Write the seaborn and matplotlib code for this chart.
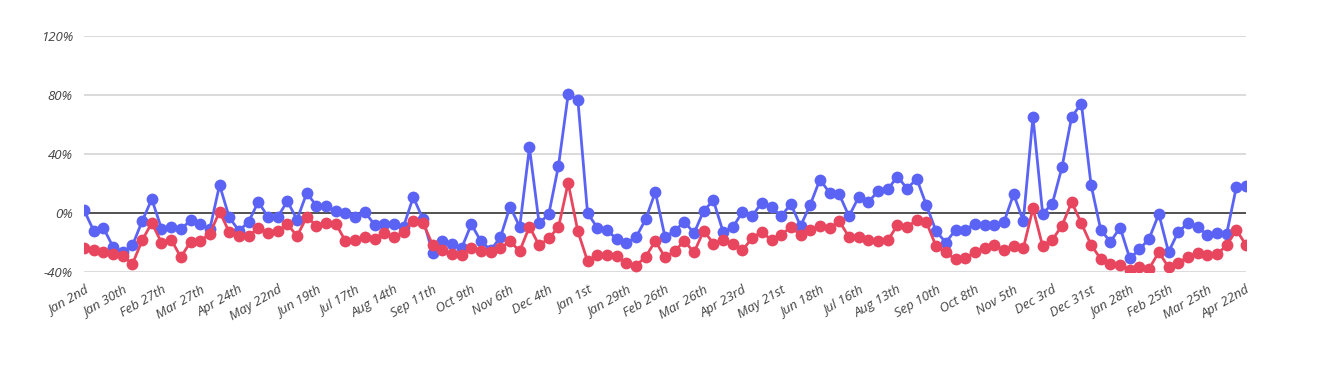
import matplotlib
matplotlib.use("Agg")
import matplotlib.pyplot as plt
import numpy as np
import pandas as pd
import seaborn as sns

# weekly % change, two series
blue = [2, -12, -10, -23, -26.5, -22, -5.6, 9.4, -10.6, -9.7,
        -11, -5, -7.6, -10.8, 19, -3, -12, -6, 7.6, -2.7,
        -2.7, 8, -4.5, 13.5, 5, 4.5, 1.3, 0, -2.5, 0.7,
        -7.9, -7.4, -7.4, -9.2, 10.8, -4, -27, -19, -21, -23.8,
        -7.6, -19.3, -25, -16.6, 4.3, -9.4, 44.5, -7, -0.7, 32,
        80.4, 76.8, 0, -9.9, -11.7, -17.5, -20.2, -16.6, -4.3, 14.2,
        -16.2, -12.1, -5.8, -13.7, 1.6, 8.5, -12.8, -9.7, 0.7, -2,
        7, 3.8, -2, 6, -8.8, 5.6, 22.7, 13.7, 12.6, -2.2,
        10.8, 7.4, 14.8, 16, 24.7, 16.6, 23.1, 5.2, -12.4, -20,
        -11.5, -11.5, -7.2, -7.9, -7.9, -6.3, 12.8, -5.4, 65.2, -0.4,
        6.3, 31.2, 65.2, 74.2, 19.1, -11.5, -19.5, -9.9, -30.8, -24.7,
        -17.3, -0.7, -26.5, -12.8, -7, -9.2, -15, -13.5, -14.2, 17.5,
        18.2]
red = [-24, -25, -26.5, -28, -29, -34.6, -18.6, -6.7, -20, -18,
       -30, -19.5, -19, -14, 1, -13, -15.5, -15.7, -10, -13.7,
       -12.4, -7.4, -15.7, -2.7, -8.5, -6.7, -7.2, -19, -18.6, -16,
       -17.3, -13.7, -16.6, -13, -5.2, -6.5, -21.6, -25.4, -27.6, -28.5,
       -23.8, -26, -26.3, -23.6, -19.3, -25.8, -9.2, -22, -17, -9.7,
       20.4, -12.4, -32.6, -28.3, -28.3, -29, -34, -35.7, -29.7, -19,
       -30, -25.8, -19, -26.7, -12, -20.7, -18.2, -21, -25.2, -17,
       -12.6, -18.6, -14.6, -9.7, -14.8, -11.7, -8.5, -10.1, -5.6, -16.2,
       -16.4, -18.6, -19, -18.6, -8.3, -9.7, -4.5, -6.3, -22.7, -26.7,
       -31.5, -30.8, -26.3, -23.4, -21.8, -25.2, -22.5, -24, 3.1, -22.5,
       -18.2, -8.5, 7.4, -7, -21.6, -31.2, -34.6, -35, -38.6, -36.6,
       -37.7, -26.5, -36.8, -33.7, -29.9, -27, -28.3, -27.9, -22, -11.5,
       -21.6]
tick_labels = ["Jan 2nd", "Jan 30th", "Feb 27th", "Mar 27th", "Apr 24th",
               "May 22nd", "Jun 19th", "Jul 17th", "Aug 14th", "Sep 11th",
               "Oct 9th", "Nov 6th", "Dec 4th", "Jan 1st", "Jan 29th",
               "Feb 26th", "Mar 26th", "Apr 23rd", "May 21st", "Jun 18th",
               "Jul 16th", "Aug 13th", "Sep 10th", "Oct 8th", "Nov 5th",
               "Dec 3rd", "Dec 31st", "Jan 28th", "Feb 25th", "Mar 25th",
               "Apr 22nd"]

n = len(blue)
df = pd.DataFrame({
    "week": list(range(n)) * 2,
    "value": blue + red,
    "series": ["blue"] * n + ["red"] * n,
})

sns.set_style("white")
plt.rcParams["font.family"] = ["Open Sans", "DejaVu Sans"]

fig = plt.figure(figsize=(13.18, 3.66), dpi=100)
ax = fig.add_axes([84 / 1318, 1 - 272 / 366, (1246 - 84) / 1318, (272 - 36) / 366])

sns.lineplot(data=df, x="week", y="value", hue="series",
             palette={"blue": "#5b63f5", "red": "#e8455f"},
             marker="o", markersize=8.5, markeredgewidth=0, linewidth=2,
             legend=False, ax=ax, zorder=3)

ax.set_xlim(0, n - 1)
ax.set_ylim(-40, 120)
yt = [-40, 0, 40, 80, 120]
ax.set_yticks(yt)
ax.set_yticklabels([f"{v}%" for v in yt], fontstyle="italic", color="#444444", fontsize=9.5)
for v in yt:
    ax.axhline(v, color="#333333" if v == 0 else "#d4d4d4", linewidth=1.2, zorder=1)

ax.set_xticks(range(0, n, 4))
ax.set_xticklabels(tick_labels, rotation=30, ha="right", rotation_mode="anchor",
                   fontstyle="italic", color="#444444", fontsize=9.5)
ax.tick_params(axis="both", length=0)
ax.tick_params(axis="x", pad=8)
ax.tick_params(axis="y", pad=8)
ax.set_xlabel("")
ax.set_ylabel("")
sns.despine(ax=ax, left=True, bottom=True)
ax.grid(False)

fig.savefig("out.png", dpi=100)
